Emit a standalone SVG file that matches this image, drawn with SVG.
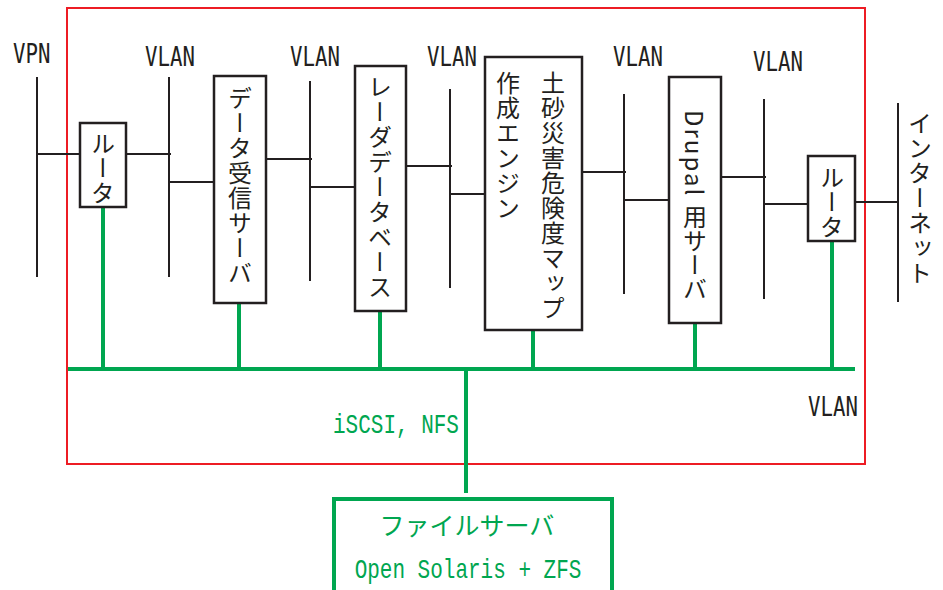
<svg xmlns="http://www.w3.org/2000/svg" width="943" height="590" viewBox="0 0 943 590">
<style>
.ln{stroke:#231f20;stroke-width:2;fill:none}
.bx{stroke:#231f20;stroke-width:2.5;fill:#fff}
.gr{stroke:#00a650;stroke-width:4;fill:none}
.vt{font-family:"Noto Sans CJK JP","Noto Sans",sans-serif;font-size:24px;fill:#231f20;writing-mode:vertical-rl;letter-spacing:1px}
.mono{font-family:"DejaVu Sans Mono","Liberation Mono",monospace;font-size:20.7px;fill:#231f20}
.gm{font-family:"Liberation Mono","DejaVu Sans Mono",monospace;font-size:21px;fill:#00a650}
.gj{font-family:"Noto Sans CJK JP","Noto Sans",sans-serif;font-size:25px;fill:#00a650}
</style>
<rect x="67" y="8" width="798" height="456" fill="none" stroke="#ed1c24" stroke-width="2"/>
<g id="connectors">
  <line class="ln" x1="37" y1="77" x2="37" y2="277"/>
  <line class="ln" x1="169" y1="77" x2="169" y2="277"/>
  <line class="ln" x1="310" y1="81" x2="310" y2="281"/>
  <line class="ln" x1="450" y1="89" x2="450" y2="288"/>
  <line class="ln" x1="624" y1="94" x2="624" y2="294"/>
  <line class="ln" x1="764" y1="99" x2="764" y2="299"/>
  <line class="ln" x1="898" y1="103" x2="898" y2="302"/>
  <line class="ln" x1="37" y1="154" x2="80" y2="154"/>
  <line class="ln" x1="126" y1="154" x2="171" y2="154"/>
  <line class="ln" x1="169" y1="182" x2="214" y2="182"/>
  <line class="ln" x1="266" y1="159" x2="312" y2="159"/>
  <line class="ln" x1="310" y1="187" x2="355" y2="187"/>
  <line class="ln" x1="406" y1="166" x2="452" y2="166"/>
  <line class="ln" x1="450" y1="194" x2="485" y2="194"/>
  <line class="ln" x1="582" y1="172" x2="626" y2="172"/>
  <line class="ln" x1="624" y1="200" x2="669" y2="200"/>
  <line class="ln" x1="721" y1="177" x2="766" y2="177"/>
  <line class="ln" x1="764" y1="204" x2="808" y2="204"/>
  <line class="ln" x1="855" y1="202" x2="898" y2="202"/>
  <line class="gr" x1="68" y1="369" x2="855" y2="369"/>
  <line class="gr" x1="103" y1="208" x2="103" y2="369"/>
  <line class="gr" x1="239" y1="304" x2="239" y2="369"/>
  <line class="gr" x1="380" y1="312" x2="380" y2="369"/>
  <line class="gr" x1="533" y1="331" x2="533" y2="369"/>
  <line class="gr" x1="695" y1="324" x2="695" y2="369"/>
  <line class="gr" x1="832" y1="242" x2="832" y2="369"/>
  <line class="gr" x1="466" y1="369" x2="466" y2="493"/>
</g>
<g id="labels">
  <text class="mono" transform="translate(13,63) scale(1,1.3)">VPN</text>
  <text class="mono" transform="translate(145,66) scale(1,1.3)">VLAN</text>
  <text class="mono" transform="translate(290,66) scale(1,1.3)">VLAN</text>
  <text class="mono" transform="translate(427,66) scale(1,1.3)">VLAN</text>
  <text class="mono" transform="translate(613,66) scale(1,1.3)">VLAN</text>
  <text class="mono" transform="translate(753,71) scale(1,1.3)">VLAN</text>
  <text class="mono" transform="translate(808,416) scale(1,1.3)">VLAN</text>
  <text class="gm" transform="translate(333,433) scale(1,1.35)">iSCSI, NFS</text>
  <text class="vt" x="920" y="111">インターネット</text>
</g>
<g id="router1"><rect class="bx" x="80" y="123" width="46" height="84"/><text class="vt" x="103" y="131">ルータ</text></g>
<g id="data-server"><rect class="bx" x="214" y="76" width="52" height="227"/><text class="vt" x="240" y="86">データ受信サーバ</text></g>
<g id="radar-db"><rect class="bx" x="355" y="66" width="51" height="245"/><text class="vt" x="380" y="75">レーダデータベース</text></g>
<g id="engine"><rect class="bx" x="485" y="57" width="97" height="273"/><text class="vt" x="553" y="71">土砂災害危険度マップ</text><text class="vt" x="508" y="71">作成エンジン</text></g>
<g id="drupal"><rect class="bx" x="669" y="77" width="52" height="246"/><text class="vt" x="695" y="110"><tspan letter-spacing="2">Drupal </tspan><tspan letter-spacing="0">用サーバ</tspan></text></g>
<g id="router2"><rect class="bx" x="808" y="156" width="47" height="85"/><text class="vt" x="832" y="165">ルータ</text></g>
<g id="file-server">
  <path class="gr" d="M334,592 V499 H612 V592"/>
  <text class="gj" x="467" y="535" text-anchor="middle">ファイルサーバ</text>
  <text class="gm" text-anchor="middle" transform="translate(468,578) scale(1,1.3)">Open Solaris + ZFS</text>
</g>
</svg>
